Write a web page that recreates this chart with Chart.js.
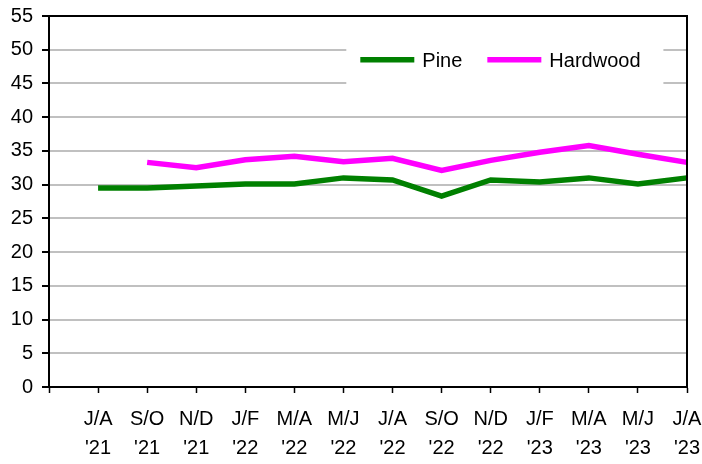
<!DOCTYPE html>
<html>
<head>
<meta charset="utf-8">
<script src="https://cdn.jsdelivr.net/npm/chart.js@4.4.0/dist/chart.umd.min.js"></script>
<style>
html,body{margin:0;padding:0;background:#fff;}
#wrap{width:702px;height:464px;}
</style>
</head>
<body>
<div id="wrap"><canvas id="c" width="702" height="464"></canvas></div>
<script>
const periods = ['', 'J/A', 'S/O', 'N/D', 'J/F', 'M/A', 'M/J', 'J/A', 'S/O', 'N/D', 'J/F', 'M/A', 'M/J', 'J/A'];
const years   = ['', "'21", "'21", "'21", "'22", "'22", "'22", "'22", "'22", "'22", "'23", "'23", "'23", "'23"];
const pine     = [null, 29.5, 29.5, 29.8, 30.1, 30.1, 31.0, 30.7, 28.3, 30.7, 30.4, 31.0, 30.1, 31.0];
const hardwood = [null, null, 33.3, 32.5, 33.7, 34.2, 33.4, 33.9, 32.1, 33.6, 34.8, 35.8, 34.5, 33.3];
const yTicks = [0, 5, 10, 15, 20, 25, 30, 35, 40, 45, 50, 55];

const labels = periods.map((p, i) => p ? [p, years[i]] : '');
const FONT = "'Liberation Sans', Arial, sans-serif";

const frame = {
  id: 'frame',
  beforeDatasetsDraw(chart) {
    const {ctx, chartArea: a} = chart;
    const w = a.right - a.left, h = a.bottom - a.top;
    const bx = a.left + w * 0.466, by = a.top + h * 0.075;
    const bw = w * 0.497, bh = h * 0.135;
    ctx.save();
    ctx.fillStyle = '#fff';
    ctx.fillRect(bx, by, bw, bh);
    const cy = by + bh * 0.32;
    const items = chart.data.datasets.map(d => ({label: d.label, color: d.borderColor}));
    let x = bx + 14;
    ctx.font = '20px ' + FONT;
    ctx.textBaseline = 'middle';
    ctx.fillStyle = '#000';
    items.forEach(it => {
      ctx.strokeStyle = it.color;
      ctx.lineWidth = 5.5;
      ctx.beginPath();
      ctx.moveTo(x, cy);
      ctx.lineTo(x + 54, cy);
      ctx.stroke();
      ctx.fillText(it.label, x + 62, cy + 2);
      x += 62 + ctx.measureText(it.label).width + 25;
    });
    ctx.restore();
  },
  afterDraw(chart) {
    const {ctx, chartArea: a} = chart;
    ctx.save();
    ctx.strokeStyle = '#000';
    ctx.lineWidth = 2;
    ctx.beginPath();
    ctx.moveTo(a.left, a.top);
    ctx.lineTo(a.right, a.top);
    ctx.lineTo(a.right, a.bottom);
    ctx.stroke();
    ctx.restore();
  }
};

new Chart(document.getElementById('c'), {
  type: 'line',
  data: {
    labels: labels,
    datasets: [
      {label: 'Pine', data: pine, borderColor: '#008000', backgroundColor: '#008000', borderWidth: 5.5, pointRadius: 0, tension: 0, borderCapStyle: 'butt', spanGaps: false},
      {label: 'Hardwood', data: hardwood, borderColor: '#ff00ff', backgroundColor: '#ff00ff', borderWidth: 5.5, pointRadius: 0, tension: 0, borderCapStyle: 'butt', spanGaps: false}
    ]
  },
  options: {
    responsive: false,
    animation: false,
    devicePixelRatio: 1,
    layout: {padding: {top: 16, right: 15, left: 0, bottom: 0}},
    plugins: {legend: {display: false}, tooltip: {enabled: false}},
    scales: {
      x: {
        offset: false,
        afterFit(axis) { axis.height = 77; axis.paddingLeft = 0; axis.paddingRight = 0; },
        grid: {display: true, drawOnChartArea: false, drawTicks: true, tickLength: 6, tickColor: '#000', tickWidth: 1.5},
        border: {display: true, color: '#000', width: 2},
        ticks: {color: '#000', font: {family: FONT, size: 20, lineHeight: 1.45}, padding: 12, maxRotation: 0, autoSkip: false}
      },
      y: {
        min: 0, max: 55,
        afterFit(axis) { axis.width = 49; axis.paddingTop = 0; axis.paddingBottom = 0; },
        afterBuildTicks(axis) { axis.ticks = yTicks.map(v => ({value: v})); },
        grid: {color: '#c0c0c0', lineWidth: 2, drawTicks: true, tickLength: 7, tickColor: '#000', tickWidth: 2},
        border: {display: true, color: '#000', width: 2},
        ticks: {color: '#000', font: {family: FONT, size: 20}, padding: 9}
      }
    }
  },
  plugins: [frame]
});
</script>
</body>
</html>
